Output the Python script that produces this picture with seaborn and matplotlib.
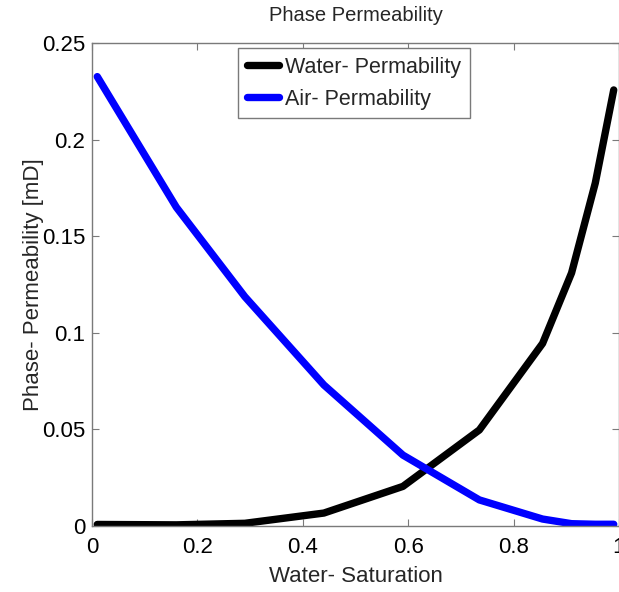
import matplotlib
matplotlib.use("Agg")
import matplotlib.pyplot as plt
import seaborn as sns
import pandas as pd

# Relative phase permeability versus water saturation
saturation = [0.01, 0.16, 0.29, 0.44, 0.59, 0.735, 0.855, 0.91, 0.955, 0.99]
water_perm = [0.0008, 0.0006, 0.0014, 0.0067, 0.0205, 0.0497, 0.0945, 0.131, 0.1775, 0.2257]
air_perm = [0.2326, 0.165, 0.1187, 0.073, 0.0367, 0.0135, 0.0036, 0.0012, 0.0009, 0.0009]

x_ticks = [0, 0.2, 0.4, 0.6, 0.8, 1]
x_tick_labels = ["0", "0.2", "0.4", "0.6", "0.8", "1"]
y_ticks = [0, 0.05, 0.1, 0.15, 0.2, 0.25]
y_tick_labels = ["0", "0.05", "0.1", "0.15", "0.2", "0.25"]

df = pd.DataFrame({"Sw": saturation, "water": water_perm, "air": air_perm})

sns.set_style("ticks")
plt.rcParams["font.family"] = ["Liberation Sans", "DejaVu Sans"]

fig = plt.figure(figsize=(6.19, 5.92), dpi=100)
ax = fig.add_axes([92 / 619, 66 / 592, 527 / 619, 483 / 592])

sns.lineplot(data=df, x="Sw", y="water", ax=ax, color="black", linewidth=5.3,
             sort=False, label="Water- Permability")
sns.lineplot(data=df, x="Sw", y="air", ax=ax, color="#0000ff", linewidth=5.3,
             sort=False, label="Air- Permability")

ax.set_xlim(0, 1)
ax.set_ylim(0, 0.25)
ax.set_xticks(x_ticks)
ax.set_xticklabels(x_tick_labels)
ax.set_yticks(y_ticks)
ax.set_yticklabels(y_tick_labels)

for side in ["left", "right", "top", "bottom"]:
    ax.spines[side].set_visible(True)
    ax.spines[side].set_color("#7a7a7a")
    ax.spines[side].set_linewidth(1.0)
ax.tick_params(direction="in", length=5, width=0.8, color="#7a7a7a",
               labelsize=16, labelcolor="black", top=True, right=True)
ax.tick_params(axis="x", pad=8)
ax.tick_params(axis="y", pad=5)

ax.set_xlabel("Water- Saturation", fontsize=16, labelpad=6)
ax.set_ylabel("Phase- Permeability [mD]", fontsize=16, labelpad=-2)
ax.set_title("Phase Permeability", fontsize=14.5, pad=16)

leg = ax.legend(loc="upper left", bbox_to_anchor=(0.277, 0.989), fontsize=15.5,
                frameon=True, fancybox=False, framealpha=1, edgecolor="#7a7a7a",
                handlelength=1.5, handletextpad=0.3, borderpad=0.4,
                labelspacing=0.5, borderaxespad=0)
leg.get_frame().set_linewidth(1.0)

fig.savefig("out.png", dpi=100)
